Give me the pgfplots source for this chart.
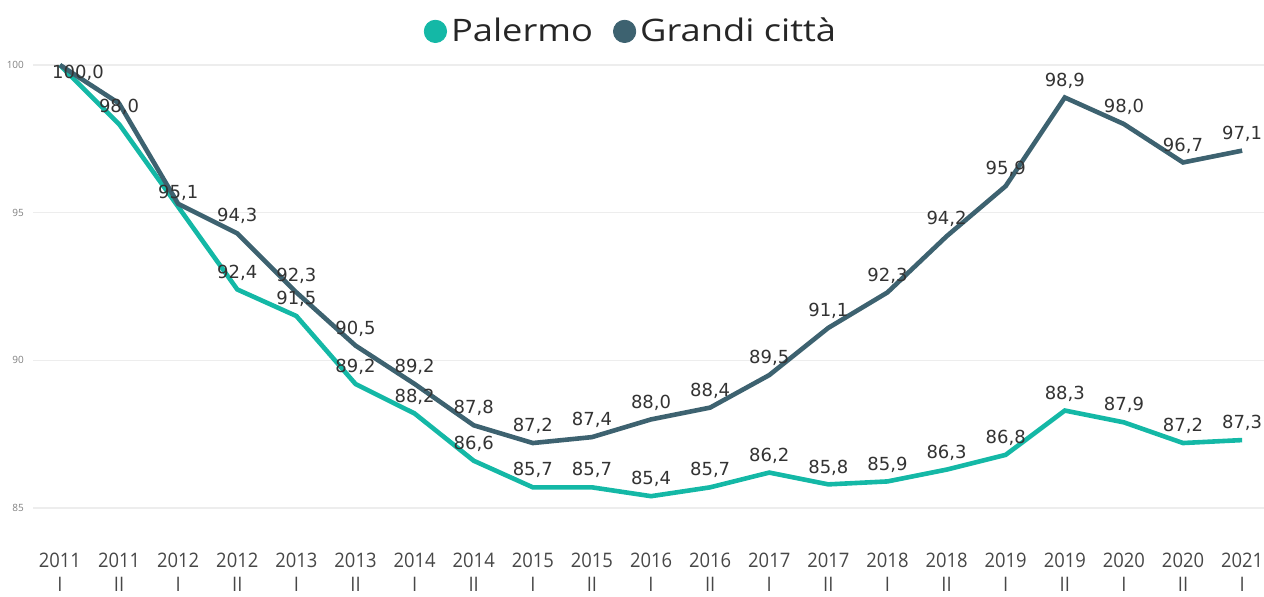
\documentclass[border=0pt]{standalone}
\usepackage{pgfplots}
\pgfplotsset{compat=1.18}
\usepackage{fontspec}
\setmainfont{Open Sans}
\newfontfamily\lblfont{DejaVu Sans}
\newfontfamily\tickfont[FakeStretch=0.92]{Open Sans}
\newfontfamily\legfont[FakeStretch=1.17]{Open Sans}
\definecolor{pal}{HTML}{14B8A6}
\definecolor{gra}{HTML}{3D6270}
\definecolor{lbl}{HTML}{333333}
\begin{document}
\begin{tikzpicture}
\begin{axis}[
  at={(16.5pt,44pt)}, anchor=south west,
  width=615.5pt, height=221.5pt, scale only axis,
  xmin=-0.456, xmax=20.37, ymin=85, ymax=100,
  clip=false,
  /pgf/number format/assume math mode=true,
  axis line style={draw=none},
  tick style={draw=none},
  ymajorgrids, grid style={color=black!7, line width=0.6pt},
  ytick={85,90,95,100},
  yticklabel style={font=\fontsize{5}{6}\selectfont, text=black!50, xshift=-1pt},
  xtick={0,...,20},
  xticklabels={{2011\\I},{2011\\II},{2012\\I},{2012\\II},{2013\\I},{2013\\II},{2014\\I},{2014\\II},{2015\\I},{2015\\II},{2016\\I},{2016\\II},{2017\\I},{2017\\II},{2018\\I},{2018\\II},{2019\\I},{2019\\II},{2020\\I},{2020\\II},{2021\\I}},
  xticklabel style={font=\tickfont\fontsize{10}{12}\selectfont, text=black!72, align=center, inner xsep=0pt, yshift=-19pt},
  legend style={at={(0.4866,1.125)}, anchor=north, draw=none, fill=none,
    font=\legfont\fontsize{15.5}{18}\selectfont, text=black!85, column sep=0pt,
    /tikz/every even column/.append style={column sep=8pt}},
  legend columns=2,
  legend image code/.code={\fill[#1] (0.32cm,0pt) circle (5.6pt);},
  every node near coord/.append style={font=\lblfont\fontsize{9}{11}\selectfont, text=lbl, anchor=center, yshift=8.5pt},
  nodes near coords={\pgfmathprintnumber[fixed,fixed zerofill,precision=1,use comma,assume math mode=true]{\pgfplotspointmeta}},
]
\addplot[pal, line width=2.3pt, nodes near coords=\empty, forget plot] coordinates {
(0,100.0) (1,98.0) (2,95.2) (3,92.4) (4,91.5) (5,89.2) (6,88.2) (7,86.6) (8,85.7) (9,85.7) (10,85.4) (11,85.7) (12,86.2) (13,85.8) (14,85.9) (15,86.3) (16,86.8) (17,88.3) (18,87.9) (19,87.2) (20,87.3)};
\addplot[gra, line width=2.3pt, nodes near coords=\empty, forget plot] coordinates {
(0,100.0) (1,98.7) (2,95.3) (3,94.3) (4,92.3) (5,90.5) (6,89.2) (7,87.8) (8,87.2) (9,87.4) (10,88.0) (11,88.4) (12,89.5) (13,91.1) (14,92.3) (15,94.2) (16,95.9) (17,98.9) (18,98.0) (19,96.7) (20,97.1)};
% labels
\addplot[draw=none, forget plot] coordinates {
(1,98.0) (3,92.4) (4,91.5) (5,89.2) (6,88.2) (7,86.6) (8,85.7) (9,85.7) (10,85.4) (11,85.7) (12,86.2) (13,85.8) (14,85.9) (15,86.3) (16,86.8) (17,88.3) (18,87.9) (19,87.2) (20,87.3)};
\addplot[draw=none, forget plot] coordinates {(2,95.1)};
\addplot[draw=none, forget plot, every node near coord/.append style={xshift=9pt, yshift=-12.5pt}] coordinates {(0,100.0)};
\addplot[draw=none, forget plot] coordinates {
(3,94.3) (4,92.3) (5,90.5) (6,89.2) (7,87.8) (8,87.2) (9,87.4) (10,88.0) (11,88.4) (12,89.5) (13,91.1) (14,92.3) (15,94.2) (16,95.9) (17,98.9) (18,98.0) (19,96.7) (20,97.1)};
\addlegendimage{pal}
\addlegendentry{Palermo}
\addlegendimage{gra}
\addlegendentry{Grandi città}
\end{axis}
\pgfresetboundingbox
\path (0,0) rectangle (632pt,298pt);
\end{tikzpicture}
\end{document}
